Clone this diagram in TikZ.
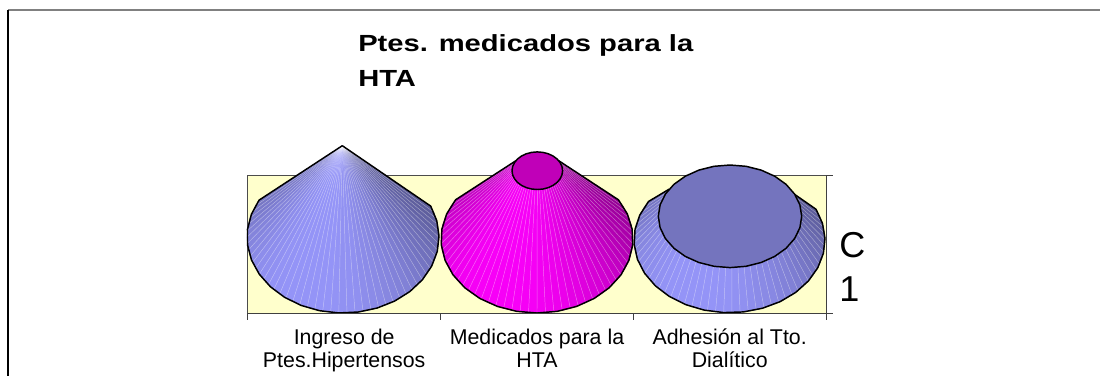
\documentclass[tikz,border=0pt]{standalone}
\usepackage{fontspec}
\setmainfont{Liberation Sans}
\newfontfamily\titlefont[FakeStretch=1.25]{Liberation Sans}
\definecolor{peri}{RGB}{153,153,255}
\definecolor{mag}{RGB}{255,0,255}
\definecolor{plotbg}{RGB}{255,255,204}
\definecolor{topblue}{RGB}{116,116,190}
\definecolor{topmag}{RGB}{192,0,184}
\tikzset{
  outline/.style={draw=black, line width=1.1pt, line join=round},
  facetline/.style={white, opacity=0.4, line width=0.35pt},
  axisline/.style={black!75, line width=0.7pt},
  catlab/.style={anchor=base, align=center, inner sep=0pt, font=\fontsize{16}{17}\selectfont},
}
% cone / frustum drawn as a fan of shaded facets
\newcommand\mkcone[1]{%
  \pgfmathsetmacro\cnD{(\cnTe-\cnTs)/48}
  \foreach \i in {1,...,48}{
    \pgfmathsetmacro\cnA{\cnTs+(\i-1)*\cnD}
    \pgfmathsetmacro\cnB{\cnTs+\i*\cnD}
    \pgfmathtruncatemacro\cnP{54+44*(0.5+0.5*cos((\cnA+\cnB)/2-245))}
    \filldraw[fill=#1!\cnP!black, draw=#1!\cnP!black, line width=0.3pt]
      ({\cnX+\cnRa*cos(\cnA)},{\cnY-\cnRb*sin(\cnA)}) --
      ({\cnX+\cnRa*cos(\cnB)},{\cnY-\cnRb*sin(\cnB)}) --
      ({\cnTX+\cnTa*cos(\cnB)},{\cnTY-\cnTb*sin(\cnB)}) --
      ({\cnTX+\cnTa*cos(\cnA)},{\cnTY-\cnTb*sin(\cnA)}) -- cycle;
  }
  \foreach \i in {1,...,47}{
    \pgfmathsetmacro\cnA{\cnTs+\i*\cnD}
    \draw[facetline] ({\cnX+\cnRa*cos(\cnA)},{\cnY-\cnRb*sin(\cnA)}) --
      ({\cnTX+\cnTa*cos(\cnA)},{\cnTY-\cnTb*sin(\cnA)});
  }
  \draw[outline] ({\cnTX+\cnTa*cos(\cnTs)},{\cnTY-\cnTb*sin(\cnTs)}) --
    plot[domain=\cnTs:\cnTe, samples=21] ({\cnX+\cnRa*cos(\x)},{\cnY-\cnRb*sin(\x)}) --
    ({\cnTX+\cnTa*cos(\cnTe)},{\cnTY-\cnTb*sin(\cnTe)});
}
\newcommand\mktop[1]{%
  \path[outline, fill=#1] plot[domain=0:360, samples=29]
    ({\cnTX+\cnTa*cos(\x)},{\cnTY-\cnTb*sin(\x)}) -- cycle;
}
\begin{document}
\begin{tikzpicture}[x=0.75pt, y=-0.75pt]
\useasboundingbox (0,0) rectangle (1100,376);
\fill[white] (0,0) rectangle (1100,376);
% outer frame
\draw[black!50, line width=1.1pt] (8,10) -- (1100,10);
\draw[black, line width=0.8pt] (8,10) -- (8,376);
% title (base anchor = last line)
\node[anchor=base west, align=left, inner sep=0pt,
      font=\titlefont\bfseries\fontsize{17.5}{26.25}\selectfont] (title) at (358,86.7)
      {Ptes. medicados para la\\HTA};
% plot area
\filldraw[fill=plotbg, draw=black!70, line width=0.6pt] (247.7,175) rectangle (826,313);
% cone 1
\def\cnX{343}\def\cnY{237}\def\cnRa{96}\def\cnRb{76}
\def\cnTX{342.3}\def\cnTY{145.7}\def\cnTa{0}\def\cnTb{0}
\def\cnTs{151}\def\cnTe{384}
\mkcone{peri}
% cone 2
\def\cnX{537}\def\cnY{239}\def\cnRa{96}\def\cnRb{74}
\def\cnTX{537.3}\def\cnTY{170.7}\def\cnTa{25.3}\def\cnTb{18.8}
\def\cnTs{148}\def\cnTe{392}
\mkcone{mag}
\mktop{topmag}
% cone 3
\def\cnX{729.5}\def\cnY{240}\def\cnRa{95.5}\def\cnRb{72.7}
\def\cnTX{730}\def\cnTY{216.3}\def\cnTa{71.7}\def\cnTb{51.3}
\def\cnTs{148}\def\cnTe{385}
\mkcone{peri}
\mktop{topblue}
% axes
\coordinate (bl) at (247.7,313);
\coordinate (br) at (826,313);
\coordinate (tr) at (826,175);
\draw[axisline] (bl) -- (br) -- (tr);
\foreach \xx in {247.7,440.7,633.3,826}{\draw[axisline] (\xx,313) -- (\xx,320);}
\foreach \yy in {175,313}{\draw[axisline] (826,\yy) -- (833,\yy);}
% right label (base anchor = last line)
\node[anchor=base west, align=left, inner sep=0pt, font=\fontsize{27}{32.8}\selectfont] (serie) at (839,301.7) {C\\1};
% category labels (base anchor = last line)
\node[catlab] (c1) at (344.2,367) {Ingreso de\\Ptes.Hipertensos};
\node[catlab] (c2) at (537,367) {Medicados para la\\HTA};
\node[catlab] (c3) at (729.7,367) {Adhesión al Tto.\\Dialítico};
\end{tikzpicture}
\end{document}
